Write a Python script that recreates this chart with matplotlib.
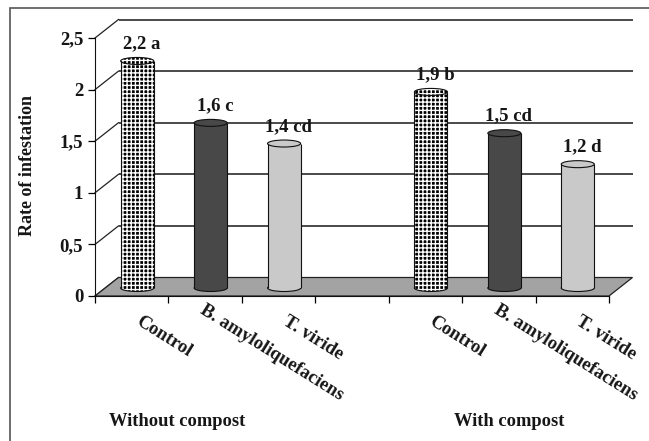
import matplotlib
matplotlib.use("Agg")
import matplotlib.pyplot as plt
from matplotlib.patches import Ellipse, Polygon, Rectangle
import numpy as np

plt.rcParams['font.family'] = ['Liberation Serif', 'DejaVu Serif']
plt.rcParams['font.weight'] = 'bold'
plt.rcParams['hatch.linewidth'] = 1.0

# ---- data ----
categories = ["Control", "B. amyloliquefaciens", "T. viride",
              "Control", "B. amyloliquefaciens", "T. viride"]
positions = [0, 1, 2, 4, 5, 6]
values = [2.2, 1.6, 1.4, 1.9, 1.5, 1.2]
value_labels = ["2,2 a", "1,6 c", "1,4 cd", "1,9 b", "1,5 cd", "1,2 d"]
groups = ["Without compost", "With compost"]
yticks = [0, 0.5, 1, 1.5, 2, 2.5]
ytick_labels = ["0", "0,5", "1", "1,5", "2", "2,5"]
styles = ["hatch", "dark", "light", "hatch", "dark", "light"]

W, H = 649, 441
fig = plt.figure(figsize=(W / 100, H / 100), dpi=100)
left_px, right_px, bot_px, top_px = 95, 609, 296, 38
ax = fig.add_axes([left_px / W, 1 - bot_px / H, (right_px - left_px) / W, (bot_px - top_px) / H])
ax.set_xlim(-0.5, 6.5)
ax.set_ylim(0, 2.5)
ax.patch.set_visible(False)

px_x = (right_px - left_px) / 7.0
px_y = (bot_px - top_px) / 2.5
DX, DY = 23.5 / px_x, 18.5 / px_y          # depth of the box
BX, BY = 5.5 / px_x, 8.0 / px_y            # bar depth position
grid_col = '#3c3c3c'
txt_col = '#161616'
FS = 13.5

# floor
x0, x1 = -0.5, 6.5
floor = Polygon([(x0, 0), (x1, 0), (x1 + DX, DY), (x0 + DX, DY)], closed=True,
                facecolor='#a3a3a3', edgecolor='#222222', lw=0.9, zorder=1, clip_on=False)
ax.add_patch(floor)

# back wall gridlines and side wall diagonals
for yv in yticks[1:]:
    ax.plot([x0 + DX, x1 + DX], [yv + DY, yv + DY], color=grid_col, lw=1.3,
            zorder=0.5, clip_on=False, solid_capstyle='butt')
for yv in yticks:
    ax.plot([x0, x0 + DX], [yv, yv + DY], color='#222222', lw=0.9, zorder=0.5, clip_on=False)

# cylinders
bw = 0.45
eh = 7.0 / px_y
xs = np.array(positions) + BX
for x, v, s in zip(xs, values, styles):
    if s == "hatch":
        kw = dict(facecolor='black', edgecolor='white', hatch='++++', lw=0)
    elif s == "dark":
        kw = dict(facecolor='#484848', edgecolor='#484848', lw=0)
    else:
        kw = dict(facecolor='#c9c9c9', edgecolor='#c9c9c9', lw=0)
    ax.add_patch(Ellipse((x, BY), bw, eh, zorder=2, **kw))
    ax.add_patch(Ellipse((x, BY), bw, eh, facecolor='none', edgecolor='#111111', lw=0.8, zorder=2.1))
    ax.bar([x], [v], bottom=BY, width=bw, zorder=3, **kw)
    ax.vlines([x - bw / 2, x + bw / 2], BY, v + BY, color='#111111', lw=0.8, zorder=3.5)
    ax.add_patch(Ellipse((x, v + BY), bw, eh, zorder=4, clip_on=False, **kw))
    ax.add_patch(Ellipse((x, v + BY), bw, eh, facecolor='none', edgecolor='#111111',
                         lw=0.8, zorder=4.1, clip_on=False))

for x, v, lab in zip(xs, values, value_labels):
    ax.annotate(lab, (x, v + BY), xytext=(3, 9), textcoords='offset points',
                ha='center', va='baseline', fontsize=FS, fontweight='bold',
                color=txt_col, annotation_clip=False)

# axes / spines
for sp in ['top', 'right']:
    ax.spines[sp].set_visible(False)
for sp in ['left', 'bottom']:
    ax.spines[sp].set_color('#111111')
    ax.spines[sp].set_zorder(5)
ax.set_yticks(yticks, ytick_labels, fontsize=FS, fontweight='bold', color=txt_col)
ax.tick_params(axis='y', direction='out', length=5, width=0.9, pad=3.5)
ax.set_xticks(positions, [""] * len(positions))
ax.tick_params(axis='x', which='major', length=0)
ax.set_xticks(np.arange(-0.5, 7.0, 1.0), minor=True)
ax.tick_params(axis='x', which='minor', direction='out', length=5, width=0.9)

# rotated category labels (long names sit a little higher, as in the original)
for p, cat in zip(positions, categories):
    off = (0.7, -4.3) if len(cat) > 12 else (7.2, -11.9)
    ax.annotate(cat, (p, 0), xytext=off, textcoords='offset points', rotation=-32,
                ha='left', va='top', rotation_mode='anchor', fontsize=FS,
                fontweight='bold', color=txt_col, annotation_clip=False)

fig.text(28 / W, 1 - 165 / H, "Rate of infestation", rotation=90, ha='center', va='center',
         fontsize=13, fontweight='bold', color=txt_col)
fig.text(177 / W, 1 - 421 / H, groups[0], ha='center', va='center', fontsize=13.3,
         fontweight='bold', color=txt_col)
fig.text(509 / W, 1 - 421 / H, groups[1], ha='center', va='center', fontsize=13.3,
         fontweight='bold', color=txt_col)

# outer frame
fig.add_artist(Rectangle((10 / W, -0.1), 1.0, (H - 8) / H + 0.1, transform=fig.transFigure,
                         fill=False, edgecolor='#555555', lw=1.2))

fig.savefig("out.png", dpi=100)
